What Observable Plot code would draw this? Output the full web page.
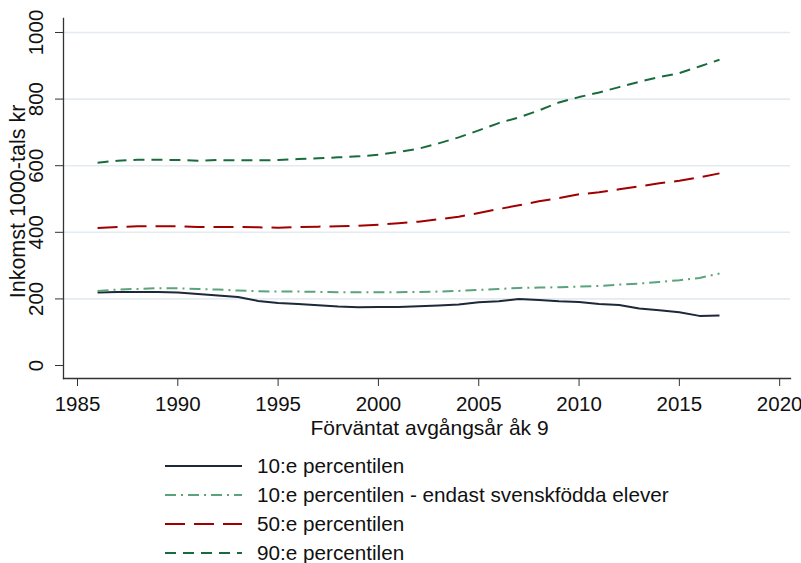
<!DOCTYPE html>
<html>
<head>
<meta charset="utf-8">
<script src="https://cdn.jsdelivr.net/npm/d3@7"></script>
<script src="https://cdn.jsdelivr.net/npm/@observablehq/plot@0.6"></script>
<style>
  body { margin: 0; background: #fff; }
  #legend { padding-top: 6.5px; font-family: "Liberation Sans", Arial, sans-serif; font-size: 20.7px; color: #111; }
  .row { display: flex; align-items: center; height: 29px; }
  .row svg { margin-left: 165px; margin-right: 15px; }
</style>
</head>
<body>
<div id="chart"></div>
<div id="legend"></div>
<script>
const years = [1986,1987,1988,1989,1990,1991,1992,1993,1994,1995,1996,1997,1998,1999,2000,2001,2002,2003,2004,2005,2006,2007,2008,2009,2010,2011,2012,2013,2014,2015,2016,2017];
const p10   = [219,221,221,221,219,215,210,206,194,188,185,181,177,175,176,176,178,180,183,190,193,200,197,193,191,185,182,171,166,160,149,150];
const p10sv = [224,228,230,232,232,230,228,225,223,222,222,221,220,220,220,220,221,222,224,227,230,233,234,235,237,239,243,246,251,256,263,276];
const p50   = [413,416,418,418,418,416,416,416,415,414,416,417,418,420,423,427,432,439,447,458,470,481,493,503,514,520,529,538,547,555,565,577];
const p90   = [609,615,618,618,617,615,617,616,616,617,620,622,625,628,633,641,651,667,685,706,728,745,766,790,806,820,836,852,866,878,898,918];

const seriesNames = ["10:e percentilen", "10:e percentilen - endast svenskfödda elever", "50:e percentilen", "90:e percentilen"];
const seriesValues = [p10, p10sv, p50, p90];
const seriesColors = ["#1d2838", "#5ba37b", "#a00000", "#1a6b3c"];
const seriesDash = [null, "11,5,2,5", "20,9", "11,7"];

const xTicks = [1985,1990,1995,2000,2005,2010,2015,2020];
const yTicks = [0,200,400,600,800,1000];
const yGrid = [200,400,600,800,1000];
const xTitle = "Förväntat avgångsår åk 9";
const yTitle = "Inkomst 1000-tals kr";

const tickFont = "'Liberation Sans Narrow', 'Liberation Sans', Arial, sans-serif";
const titleFont = "'Liberation Sans', Arial, sans-serif";

const lineMarks = seriesValues.map((vals, i) =>
  Plot.line(years.map((yr, j) => ({year: yr, value: vals[j]})), {
    x: "year", y: "value",
    stroke: seriesColors[i], strokeWidth: 2,
    strokeDasharray: seriesDash[i] ?? undefined,
    strokeLinejoin: "round", strokeLinecap: "butt"
  })
);

const chart = Plot.plot({
  width: 801,
  height: 445,
  marginLeft: 63,
  marginRight: 11,
  marginTop: 18,
  marginBottom: 67,
  x: {domain: [1984.302, 2020.54], label: null},
  y: {domain: [-39, 1042], label: null},
  style: {background: "#fff", color: "#111"},
  marks: [
    Plot.gridY(yGrid, {stroke: "#e4ebf0", strokeOpacity: 1, strokeWidth: 1.6}),
    ...lineMarks,
    Plot.frame({anchor: "left", stroke: "#333", strokeWidth: 1.3}),
    Plot.frame({anchor: "bottom", stroke: "#333", strokeWidth: 1.3}),
    Plot.axisX({ticks: xTicks, tickSize: 8, tickPadding: 10, tickFormat: d => String(d), fontSize: 20.5, fontFamily: tickFont, label: null, stroke: "#333"}),
    Plot.axisY({ticks: yTicks, tickSize: 8, tickFormat: () => "", label: null, stroke: "#333"}),
    Plot.text(yTicks, {y: d => d, text: d => String(d), frameAnchor: "left", rotate: -90, dx: -27.2, textAnchor: "middle", lineAnchor: "middle", fontSize: 20.5, fontFamily: tickFont, fill: "#111"}),
    Plot.text([yTitle], {text: d => d, frameAnchor: "left", rotate: -90, dx: -45, dy: 3, textAnchor: "middle", lineAnchor: "middle", fontSize: 21.5, fontFamily: titleFont, fill: "#111"}),
    Plot.text([xTitle], {text: d => d, frameAnchor: "bottom", dx: 2.5, dy: 42, textAnchor: "middle", lineAnchor: "top", fontSize: 21, fontFamily: titleFont, fill: "#111"})
  ]
});
document.getElementById("chart").appendChild(chart);

const legend = d3.select("#legend");
seriesNames.forEach((name, i) => {
  const row = legend.append("div").attr("class", "row");
  const s = row.append("svg").attr("width", 77).attr("height", 10);
  s.append("line").attr("x1", 0).attr("x2", 77).attr("y1", 5).attr("y2", 5)
    .attr("stroke", seriesColors[i]).attr("stroke-width", 2)
    .attr("stroke-dasharray", seriesDash[i]);
  row.append("span").text(name);
});
</script>
</body>
</html>
